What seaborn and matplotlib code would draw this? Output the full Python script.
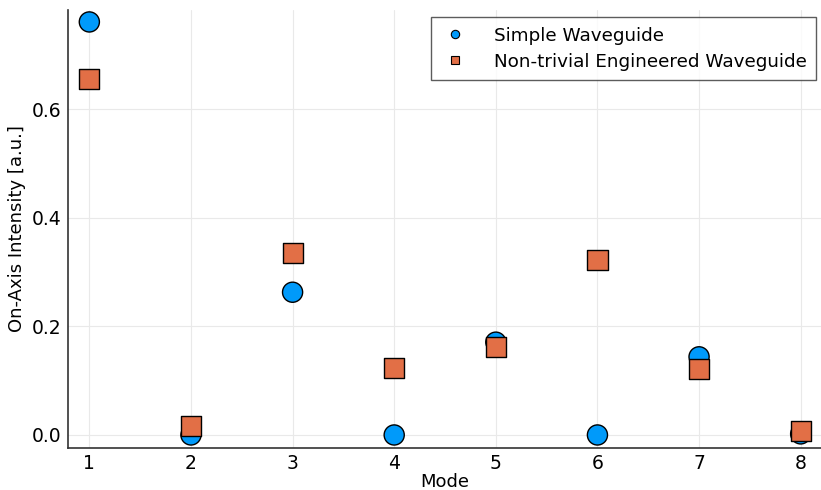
import matplotlib
matplotlib.use("Agg")
import matplotlib.pyplot as plt
import seaborn as sns
import pandas as pd
from matplotlib.lines import Line2D

modes = [1, 2, 3, 4, 5, 6, 7, 8]
simple = [0.761, 0.0, 0.263, 0.0, 0.171, 0.0, 0.144, 0.002]
engineered = [0.656, 0.017, 0.335, 0.123, 0.162, 0.322, 0.122, 0.007]
series_names = ["Simple Waveguide", "Non-trivial Engineered Waveguide"]
x_ticks = [1, 2, 3, 4, 5, 6, 7, 8]
y_ticks = [0.0, 0.2, 0.4, 0.6]

df = pd.DataFrame({
    "Mode": modes + modes,
    "Intensity": simple + engineered,
    "Series": [series_names[0]] * len(modes) + [series_names[1]] * len(modes),
})

sns.set_style("white")
plt.rcParams['font.family'] = ['DejaVu Sans']
plt.rcParams['text.color'] = 'black'
plt.rcParams['axes.labelcolor'] = 'black'

fig = plt.figure(figsize=(8.21, 4.90), dpi=100)
ax = fig.add_axes([68 / 821, 1 - 448 / 490, (821 - 68) / 821, (448 - 10) / 490])

colors = {series_names[0]: "#009AFA", series_names[1]: "#E26F46"}
markers = {series_names[0]: "o", series_names[1]: "s"}
sns.scatterplot(data=df, x="Mode", y="Intensity", hue="Series", style="Series",
                palette=colors, markers=markers, s=210, edgecolor="black",
                linewidth=1.0, ax=ax, legend=False, zorder=3)

ax.set_xlim(0.79, 8.2)
ax.set_ylim(-0.024, 0.783)
ax.set_xticks(x_ticks)
ax.set_xticklabels([str(t) for t in x_ticks])
ax.set_yticks(y_ticks)
ax.set_yticklabels([f"{t:.1f}" for t in y_ticks])
ax.grid(True, color="#e9e9e9", linewidth=0.8, zorder=0)
ax.set_axisbelow(True)
for side in ["top", "right"]:
    ax.spines[side].set_visible(False)
for side in ["left", "bottom"]:
    ax.spines[side].set_color("#333333")
    ax.spines[side].set_linewidth(1.2)
ax.tick_params(axis="both", labelsize=13.5, length=3, direction="inout", color="#333333",
               colors="black", pad=3)
ax.set_xlabel("Mode", fontsize=13, labelpad=0, color="black")
ax.set_ylabel("On-Axis Intensity [a.u.]", fontsize=13, labelpad=4, color="black")

handles = [
    Line2D([], [], marker="o", linestyle="none", markerfacecolor="#009AFA",
           markeredgecolor="black", markersize=6, markeredgewidth=0.8),
    Line2D([], [], marker="s", linestyle="none", markerfacecolor="#E26F46",
           markeredgecolor="black", markersize=6, markeredgewidth=0.8),
]
leg = ax.legend(handles, series_names, loc="upper right", fontsize=13.2,
                frameon=True, fancybox=False, edgecolor="#333333",
                bbox_to_anchor=(0.993, 0.983), handletextpad=1.3, borderpad=0.5,
                labelspacing=0.45, handlelength=1.6, borderaxespad=0.0)
leg.get_frame().set_linewidth(1.0)
for t in leg.get_texts():
    t.set_color("black")

fig.savefig("out.png", dpi=100)
